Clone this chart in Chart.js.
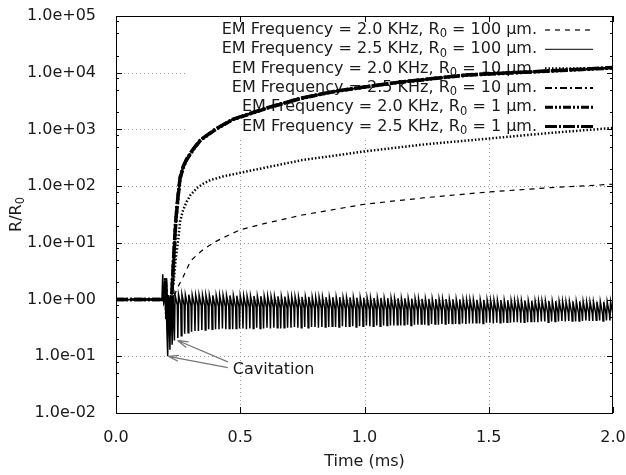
<!DOCTYPE html>
<html>
<head>
<meta charset="utf-8">
<script src="https://cdn.jsdelivr.net/npm/chart.js@4/dist/chart.umd.min.js"></script>
<style>
  html, body { margin: 0; padding: 0; background: #fff; }
</style>
</head>
<body>
<canvas id="chart" width="626" height="475"></canvas>
<script>
// legend labels
const seriesLabels = [
  'EM Frequency = 2.0 KHz, R₀ = 100 µm.',
  'EM Frequency = 2.5 KHz, R₀ = 100 µm.',
  'EM Frequency = 2.0 KHz, R₀ = 10 µm.',
  'EM Frequency = 2.5 KHz, R₀ = 10 µm.',
  'EM Frequency = 2.0 KHz, R₀ = 1 µm.',
  'EM Frequency = 2.5 KHz, R₀ = 1 µm.'
];
const xTicks = [0, 0.5, 1.0, 1.5, 2.0];
const yDecades = [-2, -1, 0, 1, 2, 3, 4, 5];

// 2.0 KHz, 100 um : time (ms) / R/R0
const t100a = [0, 0.2, 0.22, 0.235, 0.25, 0.27, 0.3, 0.35, 0.4, 0.45, 0.5, 0.6, 0.75, 1.0, 1.25, 1.5, 1.75, 2.0];
const r100a = [1, 1, 1, 1.2, 1.7, 2.5, 4.8, 7.6, 10.5, 13.5, 17, 22, 31, 48, 63, 79, 94, 108];

// 2.0 KHz, 10 um
const t10a = [0, 0.22, 0.232, 0.24, 0.25, 0.258, 0.27, 0.285, 0.3, 0.325, 0.35, 0.38, 0.43, 0.5, 0.6, 0.75, 1.0, 1.25, 1.5, 1.75, 2.0];
const r10a = [1, 1, 2, 5, 11, 24, 38, 54, 70, 92, 110, 128, 148, 172, 212, 288, 410, 550, 690, 870, 1060];

// 2.5 KHz 10 um and both 1 um runs sit on top of each other
const tTop = [0, 0.195, 0.2, 0.204, 0.208, 0.212, 0.216, 0.22, 0.224, 0.228, 0.235, 0.24, 0.245, 0.25, 0.258, 0.27, 0.285, 0.31, 0.34, 0.4, 0.47, 0.61, 0.74, 0.87, 1.0, 1.14, 1.41, 1.68, 2.0];
const r10b = [1, 1, 2.2, 0.5, 1.1, 0.3, 1.05, 0.4, 1.0, 2.5, 9, 22, 40, 68, 140, 215, 300, 440, 650, 1000, 1500, 2400, 3500, 4600, 5600, 6800, 9100, 10400, 12200];
const r1a  = [1, 1, 2.0, 0.6, 1.1, 0.25, 1.0, 0.45, 1.0, 2.4, 8.5, 21, 39, 66, 137, 210, 295, 435, 645, 990, 1490, 2380, 3480, 4580, 5580, 6780, 9050, 10350, 12100];
const r1b  = [1, 1, 2.4, 0.45, 1.15, 0.35, 1.1, 0.5, 1.05, 2.6, 9.5, 23, 41, 70, 143, 220, 305, 445, 655, 1010, 1510, 2420, 3520, 4620, 5620, 6820, 9150, 10450, 12300];

// 2.5 KHz, 100 um : cavitation transient, then steady oscillation
const tHead = [0, 0.185, 0.188, 0.192, 0.197, 0.203, 0.208, 0.212, 0.217, 0.221, 0.226, 0.23];
const rHead = [1, 1, 2.8, 0.9, 1.1, 0.55, 0.1, 1.2, 0.13, 1.2, 0.16, 1.2];
const oscStart = 0.235, oscPeriod = 0.0138;
const oscTrough = [
  0.19,0.21,0.23,0.25,0.26,0.27,0.28,0.28,0.29,0.29,0.30,0.30,0.30,0.30,0.31,0.30,
  0.31,0.30,0.31,0.31,0.31,0.30,0.31,0.31,0.32,0.31,0.31,0.32,0.31,0.32,0.32,0.31,
  0.32,0.32,0.32,0.33,0.32,0.32,0.33,0.32,0.33,0.33,0.32,0.33,0.33,0.33,0.34,0.33,
  0.33,0.34,0.33,0.34,0.34,0.33,0.34,0.34,0.35,0.34,0.34,0.35,0.34,0.35,0.35,0.35,
  0.35,0.36,0.35,0.36,0.36,0.35,0.36,0.36,0.37,0.36,0.36,0.37,0.37,0.36,0.37,0.37,
  0.37,0.38,0.37,0.38,0.38,0.37,0.38,0.38,0.39,0.38,0.38,0.39,0.39,0.38,0.39,0.39,
  0.39,0.40,0.39,0.40,0.40,0.39,0.40,0.40,0.41,0.40,0.40,0.41,0.41,0.40,0.41,0.41,
  0.41,0.42,0.41,0.42,0.42,0.41,0.42,0.42,0.43,0.42,0.42,0.43,0.43,0.42,0.43,0.43
];
const oscPeak = [
  1.20,1.22,1.23,1.22,1.22,1.21,1.21,1.21,1.20,1.20,1.20,1.19,1.19,1.19,1.19,1.18,
  1.18,1.18,1.17,1.17,1.17,1.16,1.16,1.16,1.15,1.15,1.15,1.15,1.14,1.14,1.14,1.14,
  1.13,1.13,1.13,1.13,1.12,1.12,1.12,1.12,1.11,1.11,1.11,1.11,1.10,1.10,1.10,1.10,
  1.10,1.09,1.09,1.09,1.09,1.08,1.08,1.08,1.08,1.07,1.07,1.07,1.07,1.06,1.06,1.06,
  1.05,1.05,1.05,1.05,1.04,1.04,1.04,1.04,1.03,1.03,1.03,1.03,1.02,1.02,1.02,1.02,
  1.01,1.01,1.01,1.01,1.00,1.00,1.00,1.00,0.99,0.99,0.99,0.99,0.98,0.98,0.98,0.98,
  0.97,0.97,0.97,0.97,0.96,0.96,0.96,0.96,0.95,0.95,0.95,0.95,0.95,0.94,0.94,0.94,
  0.94,0.94,0.93,0.93,0.93,0.93,0.93,0.93,0.92,0.92,0.92,0.92,0.92,0.92,0.92,0.92
];
const oscShoulder = [
  0.80,0.80,0.79,0.79,0.78,0.78,0.78,0.77,0.77,0.77,0.76,0.76,0.76,0.75,0.75,0.75,
  0.75,0.74,0.74,0.74,0.74,0.73,0.73,0.73,0.73,0.72,0.72,0.72,0.72,0.72,0.71,0.71,
  0.71,0.71,0.71,0.70,0.70,0.70,0.70,0.70,0.69,0.69,0.69,0.69,0.69,0.68,0.68,0.68,
  0.68,0.68,0.68,0.67,0.67,0.67,0.67,0.67,0.66,0.66,0.66,0.66,0.66,0.66,0.65,0.65,
  0.65,0.65,0.65,0.65,0.64,0.64,0.64,0.64,0.64,0.64,0.63,0.63,0.63,0.63,0.63,0.63,
  0.62,0.62,0.62,0.62,0.62,0.62,0.61,0.61,0.61,0.61,0.61,0.61,0.61,0.60,0.60,0.60,
  0.60,0.60,0.60,0.60,0.60,0.59,0.59,0.59,0.59,0.59,0.59,0.59,0.58,0.58,0.58,0.58,
  0.58,0.58,0.58,0.58,0.57,0.57,0.57,0.57,0.57,0.57,0.57,0.56,0.56,0.56,0.56,0.56
];

// annotation: arrow tips and text anchor in data units
const cavTips = [[0.21, 0.1], [0.248, 0.19]];
const cavTails = [[0.45, 0.063], [0.45, 0.08]];
const cavText = [0.47, 0.058];

function pairs(ts, rs) { return ts.map((t, i) => ({ x: t, y: rs[i] })); }

const osc = pairs(tHead, rHead);
oscTrough.forEach((v, i) => {
  const t0 = oscStart + i * oscPeriod;
  osc.push({ x: t0, y: v });
  osc.push({ x: t0 + 0.2 * oscPeriod, y: oscPeak[i] });
  osc.push({ x: t0 + 0.85 * oscPeriod, y: oscShoulder[i] });
});

const FONT = '"DejaVu Sans", sans-serif';
const INK = '#1a1a1a';

// w: width on the plot, kw: width of the key sample
const styles = [
  { w: 1.2, kw: 1.2, dash: [5, 5] },
  { w: 1.5, kw: 1, dash: [] },
  { w: 2.5, kw: 2.5, dash: [1.5, 2] },
  { w: 2.5, kw: 2, dash: [7, 3, 2, 3] },
  { w: 3.5, kw: 3, dash: [8, 2, 2, 2, 2, 2] },
  { w: 3.5, kw: 3, dash: [12, 2, 2, 2] }
];
const seriesData = [pairs(t100a, r100a), osc, pairs(t10a, r10a), pairs(tTop, r10b), pairs(tTop, r1a), pairs(tTop, r1b)];

const datasets = seriesData.map((d, i) => ({
  label: seriesLabels[i],
  data: d,
  borderColor: '#000',
  borderWidth: styles[i].w,
  borderDash: styles[i].dash,
  pointRadius: 0,
  tension: 0,
  fill: false
}));

function drawSubText(ctx, str, x, y, align) {
  // "R₀" -> R with a small lowered 0
  const parts = str.split('₀');
  const big = '16px ' + FONT, small = '11.5px ' + FONT;
  let w = 0;
  parts.forEach((p, i) => {
    ctx.font = big; w += ctx.measureText(p).width;
    if (i < parts.length - 1) { ctx.font = small; w += ctx.measureText('0').width; }
  });
  let cx = align === 'right' ? x - w : align === 'center' ? x - w / 2 : x;
  ctx.textAlign = 'left';
  ctx.textBaseline = 'middle';
  parts.forEach((p, i) => {
    ctx.font = big; ctx.fillText(p, cx, y); cx += ctx.measureText(p).width;
    if (i < parts.length - 1) {
      ctx.font = small; ctx.fillText('0', cx, y + 4.5); cx += ctx.measureText('0').width;
    }
  });
}

const frame = {
  id: 'frame',
  beforeDatasetsDraw(chart) {
    const { ctx, chartArea: a, scales: { x, y } } = chart;
    ctx.save();
    // dotted grid
    ctx.strokeStyle = '#a0a0a0';
    ctx.lineWidth = 1;
    ctx.setLineDash([1, 3]);
    xTicks.slice(1, -1).forEach(v => {
      const px = Math.round(x.getPixelForValue(v)) + 0.5;
      ctx.beginPath(); ctx.moveTo(px, a.top); ctx.lineTo(px, a.bottom); ctx.stroke();
    });
    yDecades.slice(1, -1).forEach(e => {
      const py = Math.round(y.getPixelForValue(Math.pow(10, e))) + 0.5;
      ctx.beginPath(); ctx.moveTo(a.left, py); ctx.lineTo(a.right, py); ctx.stroke();
    });
    ctx.setLineDash([]);
    // key box (opaque)
    ctx.fillStyle = '#fff';
    ctx.fillRect(185, a.top + 1, a.right - 186, 121);
    // key entries
    const textRight = 537, s0 = 545, s1 = 593;
    chart.data.datasets.forEach((ds, i) => {
      const ry = 30 + i * 19.3;
      ctx.fillStyle = INK;
      drawSubText(ctx, ds.label, textRight, ry, 'right');
      ctx.strokeStyle = '#000';
      ctx.lineWidth = styles[i].kw;
      ctx.setLineDash(ds.borderDash);
      ctx.beginPath(); ctx.moveTo(s0, ry); ctx.lineTo(s1, ry); ctx.stroke();
      ctx.setLineDash([]);
    });
    ctx.restore();
  },
  afterDatasetsDraw(chart) {
    const { ctx, chartArea: a, scales: { x, y } } = chart;
    ctx.save();
    ctx.strokeStyle = '#000';
    ctx.lineWidth = 1;
    // inward ticks, mirrored on all four sides
    xTicks.forEach(v => {
      const px = Math.round(x.getPixelForValue(v)) + 0.5;
      ctx.beginPath();
      ctx.moveTo(px, a.bottom); ctx.lineTo(px, a.bottom - 6);
      ctx.moveTo(px, a.top); ctx.lineTo(px, a.top + 6);
      ctx.stroke();
    });
    yDecades.forEach(e => {
      [1, 2, 5, 8].forEach(m => {
        const v = m * Math.pow(10, e);
        if (v > 1e5) return;
        const py = Math.round(y.getPixelForValue(v)) + 0.5;
        const len = m === 1 ? 6 : 3;
        ctx.beginPath();
        ctx.moveTo(a.left, py); ctx.lineTo(a.left + len, py);
        ctx.moveTo(a.right, py); ctx.lineTo(a.right - len, py);
        ctx.stroke();
      });
    });
    ctx.strokeRect(Math.round(a.left) + 0.5, Math.round(a.top) + 0.5, Math.round(a.width) - 1, Math.round(a.height));

    // cavitation arrows
    ctx.strokeStyle = '#777';
    ctx.lineWidth = 1.3;
    cavTips.forEach((tip, i) => {
      const tx = x.getPixelForValue(tip[0]), ty = y.getPixelForValue(tip[1]);
      const sx = x.getPixelForValue(cavTails[i][0]), sy = y.getPixelForValue(cavTails[i][1]);
      const ang = Math.atan2(ty - sy, tx - sx);
      ctx.beginPath();
      ctx.moveTo(sx, sy); ctx.lineTo(tx, ty);
      [-0.28, 0.28].forEach(d => {
        ctx.moveTo(tx, ty);
        ctx.lineTo(tx - 11 * Math.cos(ang + d), ty - 11 * Math.sin(ang + d));
      });
      ctx.stroke();
    });
    ctx.fillStyle = INK;
    ctx.font = '16px ' + FONT;
    ctx.textAlign = 'left';
    ctx.textBaseline = 'middle';
    ctx.fillText('Cavitation', x.getPixelForValue(cavText[0]), y.getPixelForValue(cavText[1]));

    // axis titles
    ctx.textAlign = 'center';
    ctx.fillText('Time (ms)', (a.left + a.right) / 2, 462);
    ctx.translate(17, (a.top + a.bottom) / 2);
    ctx.rotate(-Math.PI / 2);
    drawSubText(ctx, 'R/R₀', 0, 0, 'center');
    ctx.restore();
  }
};

new Chart(document.getElementById('chart'), {
  type: 'line',
  data: { datasets },
  plugins: [frame],
  options: {
    responsive: false,
    animation: false,
    devicePixelRatio: 1,
    layout: { padding: { left: 0, right: 13, top: 16, bottom: 0 } },
    plugins: { legend: { display: false }, tooltip: { enabled: false } },
    scales: {
      x: {
        type: 'linear',
        min: 0, max: 2,
        afterFit: s => { s.height = 62; s.paddingLeft = 0; s.paddingRight = 0; },
        afterBuildTicks: s => { s.ticks = xTicks.map(v => ({ value: v })); },
        grid: { display: false },
        border: { display: false },
        ticks: {
          color: INK,
          font: { family: FONT, size: 16 },
          padding: 7,
          maxRotation: 0,
          callback: v => v.toFixed(1)
        }
      },
      y: {
        type: 'logarithmic',
        min: 1e-2, max: 1e5,
        afterFit: s => { s.width = 116; s.paddingTop = 0; s.paddingBottom = 0; },
        afterBuildTicks: s => { s.ticks = yDecades.map(e => ({ value: Math.pow(10, e) })); },
        grid: { display: false },
        border: { display: false },
        ticks: {
          color: INK,
          font: { family: FONT, size: 16 },
          padding: 12,
          callback: v => {
            const e = Math.round(Math.log10(v));
            return '1.0e' + (e < 0 ? '-' : '+') + String(Math.abs(e)).padStart(2, '0');
          }
        }
      }
    }
  }
});
</script>
</body>
</html>
